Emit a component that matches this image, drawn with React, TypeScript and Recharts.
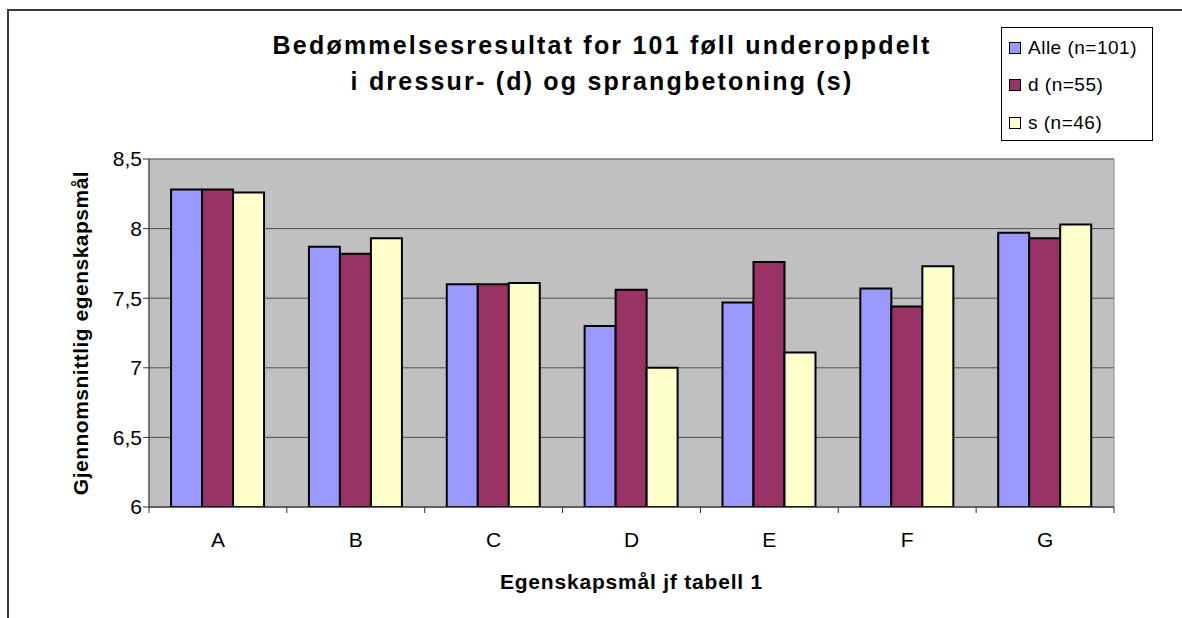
import React from "react";
import {
  BarChart,
  Bar,
  XAxis,
  YAxis,
  CartesianGrid,
  ReferenceArea,
  Legend,
} from "recharts";

const categories = ["A", "B", "C", "D", "E", "F", "G"];
const alleValues = [8.28, 7.87, 7.6, 7.3, 7.47, 7.57, 7.97];
const dValues = [8.28, 7.82, 7.6, 7.56, 7.76, 7.44, 7.93];
const sValues = [8.26, 7.93, 7.61, 7.0, 7.11, 7.73, 8.03];
const yTicks = [6, 6.5, 7, 7.5, 8, 8.5];

const seriesNames = ["Alle (n=101)", "d (n=55)", "s (n=46)"];
const seriesColors = ["#9999FF", "#993366", "#FFFFCC"];

const data = categories.map((c, i) => ({
  cat: c,
  alle: alleValues[i],
  d: dValues[i],
  s: sValues[i],
}));

const W = 1182;
const H = 618;
const PLOT = { left: 149, right: 1114, top: 159, bottom: 507 };
const BAND = (PLOT.right - PLOT.left) / categories.length;
const FONT = "'Liberation Sans', Arial, sans-serif";

// x-axis tick: label at the category centre, tick marks on the category borders
function CategoryTick(props: any) {
  const { x, payload } = props;
  const last = payload.value === categories[categories.length - 1];
  return (
    <g>
      <line x1={x - BAND / 2} x2={x - BAND / 2} y1={PLOT.bottom} y2={PLOT.bottom + 6} stroke="#333" />
      {last && (
        <line x1={x + BAND / 2} x2={x + BAND / 2} y1={PLOT.bottom} y2={PLOT.bottom + 6} stroke="#333" />
      )}
      <text x={x} y={PLOT.bottom + 40} textAnchor="middle" fontSize={21} fontFamily={FONT} fill="#000">
        {payload.value}
      </text>
    </g>
  );
}

function LegendBox(props: any) {
  const payload = props.payload || [];
  return (
    <div
      style={{
        boxSizing: "border-box",
        width: 152,
        height: 114,
        border: "1px solid #000",
        background: "#fff",
        paddingTop: 1,
        fontFamily: FONT,
        fontSize: 19,
        letterSpacing: 0.5,
        color: "#000",
      }}
    >
      {payload.map((entry: any, i: number) => (
        <div key={i} style={{ height: 37.5, display: "flex", alignItems: "center" }}>
          <span
            style={{
              display: "inline-block",
              boxSizing: "border-box",
              width: 12,
              height: 12,
              marginLeft: 7,
              marginRight: 7,
              background: entry.color,
              border: "1px solid #000",
            }}
          />
          <span>{entry.value}</span>
        </div>
      ))}
    </div>
  );
}

export default function App() {
  return (
    <div
      style={{
        position: "absolute",
        left: 0,
        top: 0,
        width: W,
        height: H,
        overflow: "hidden",
        background: "#fff",
      }}
    >
      {/* outer chart-area frame */}
      <div
        style={{
          position: "absolute",
          left: 7,
          top: 9,
          width: 1400,
          height: 900,
          borderLeft: "2px solid #3a3a3a",
          borderTop: "2px solid #3a3a3a",
        }}
      />

      <div
        style={{
          position: "absolute",
          left: 0,
          top: 27,
          width: 1204,
          textAlign: "center",
          fontFamily: FONT,
          fontWeight: "bold",
          fontSize: 25,
          letterSpacing: 2.2,
          lineHeight: "36px",
          color: "#000",
        }}
      >
        Bedømmelsesresultat for 101 føll underoppdelt
        <br />i dressur- (d) og sprangbetoning (s)
      </div>

      <div
        style={{
          position: "absolute",
          left: 81 - 200,
          top: 333 - 12,
          width: 400,
          height: 24,
          lineHeight: "24px",
          textAlign: "center",
          transform: "rotate(-90deg)",
          fontFamily: FONT,
          fontWeight: "bold",
          fontSize: 21,
          letterSpacing: 0.5,
          color: "#000",
        }}
      >
        Gjennomsnittlig egenskapsmål
      </div>

      <div
        style={{
          position: "absolute",
          left: 631.5 - 250,
          top: 570,
          width: 500,
          lineHeight: "24px",
          textAlign: "center",
          fontFamily: FONT,
          fontWeight: "bold",
          fontSize: 21,
          letterSpacing: 0.8,
          color: "#000",
        }}
      >
        Egenskapsmål jf tabell 1
      </div>

      <div style={{ position: "absolute", left: 0, top: 0 }}>
        <BarChart
          width={W}
          height={H}
          data={data}
          margin={{ top: PLOT.top, right: W - PLOT.right, left: PLOT.left - 60, bottom: H - PLOT.bottom - 30 }}
          barCategoryGap="16%"
          barGap={0}
        >
          <CartesianGrid vertical={false} stroke="#505050" fill="#C0C0C0" fillOpacity={1} />
          <ReferenceArea y1={6} y2={8.5} fill="none" stroke="#8a8a8a" ifOverflow="visible" />
          <XAxis
            dataKey="cat"
            interval={0}
            tickLine={false}
            axisLine={{ stroke: "#333" }}
            tick={<CategoryTick />}
            height={30}
          />
          <YAxis
            width={60}
            domain={[6, 8.5]}
            ticks={yTicks}
            allowDataOverflow
            tickSize={6}
            tickMargin={1}
            axisLine={{ stroke: "#333" }}
            tickLine={{ stroke: "#333" }}
            tick={{ fill: "#000", fontSize: 21, fontFamily: FONT }}
            tickFormatter={(v: number) => String(v).replace(".", ",")}
          />
          <Legend
            layout="vertical"
            align="center"
            verticalAlign="middle"
            wrapperStyle={{ left: 1001, top: 27, width: 152, height: 114 }}
            content={<LegendBox />}
          />
          <Bar dataKey="alle" name={seriesNames[0]} fill={seriesColors[0]} stroke="#000" strokeWidth={2} isAnimationActive={false} />
          <Bar dataKey="d" name={seriesNames[1]} fill={seriesColors[1]} stroke="#000" strokeWidth={2} isAnimationActive={false} />
          <Bar dataKey="s" name={seriesNames[2]} fill={seriesColors[2]} stroke="#000" strokeWidth={2} isAnimationActive={false} />
        </BarChart>
      </div>
    </div>
  );
}
